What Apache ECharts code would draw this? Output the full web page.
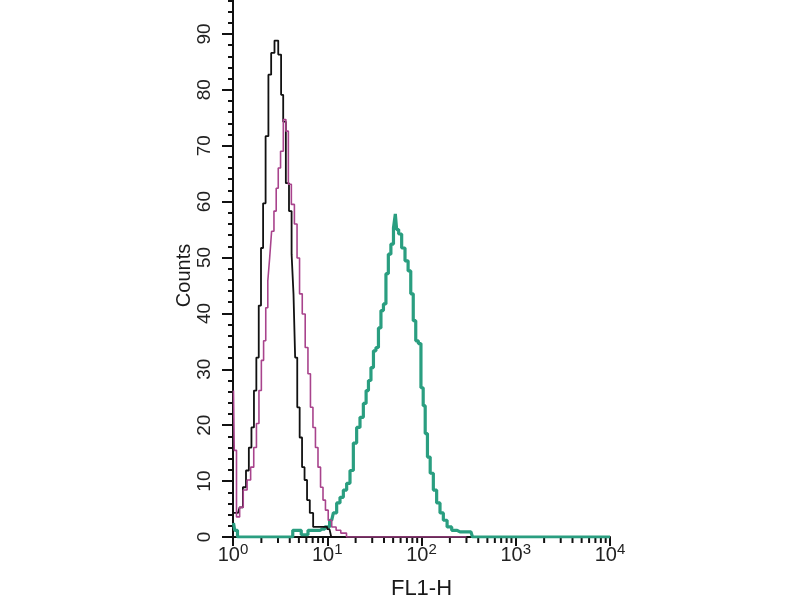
<!DOCTYPE html>
<html><head><meta charset="utf-8">
<script src="https://cdn.jsdelivr.net/npm/echarts@6/dist/echarts.min.js"></script>
<style>html,body{margin:0;padding:0;background:#fff}#c{width:800px;height:600px}</style>
</head><body><div id="c"></div>
<script>
// FL1-H channel values (x) and counts (y) for each histogram
const blackX = [1.025,1.130,1.225,1.324,1.425,1.522,1.618,1.720,1.819,1.934,2.031,2.143,2.295,2.458,2.625,2.894,3.152,3.327,3.493,3.786,4.074,4.299,4.470,4.660,4.955,5.242,5.570,5.921,6.294,6.773,7.413,8.377,9.465,10.56,11.51,13.0];
const blackY = [4.3,4.3,5.3,8.9,11.9,16.0,19.6,26.2,32.1,41.4,51.7,59.7,71.7,82.7,86.6,88.8,86.3,79.1,74.3,63.3,58.3,50.6,43.5,32.1,23.2,17.8,12.5,10.2,6.6,4.3,1.8,1.8,1.8,1.4,0,0];

const magentaX = [1.012,1.050,1.130,1.225,1.347,1.478,1.602,1.720,1.828,1.944,2.056,2.169,2.284,2.398,2.500,2.638,2.804,2.944,3.099,3.295,3.545,3.741,3.997,4.331,4.638,4.929,5.242,5.625,6.053,6.434,6.839,7.269,7.728,8.232,8.754,9.283,9.867,10.62,11.71,13.17,14.70,17.43,300];
const magentaY = [26.2,15.5,3.6,5.3,8.4,10.2,12.5,16.0,20.3,26.2,31.6,35.1,41.0,45.8,49.9,54.7,58.3,62.4,66.0,69.0,74.7,72.6,63.1,59.5,56.0,49.9,43.5,39.9,33.9,29.2,23.2,19.6,16.0,12.5,8.9,6.6,4.8,3.0,1.8,1.2,0.7,0,0];

const tealX = [1.012,1.076,1.158,3.834,4.835,5.806,6.724,7.977,8.799,10.06,11.15,12.09,13.10,14.23,15.43,16.73,18.17,19.70,21.35,23.20,25.15,26.54,28.21,29.99,31.87,33.88,36.01,38.28,40.69,43.25,45.75,48.99,51.9,53.6,55.4,59.16,64.12,69.66,74.61,79.30,84.27,89.59,95.71,101.7,106.8,112.2,119.2,128.3,139.0,150.8,163.8,177.5,196.7,222.3,256.2,303.9,335.1,360.6,10000];
const tealY = [2.5,1.2,0,0,1.2,0.4,1.2,1.2,1.4,1.8,3.0,4.3,6.1,7.1,8.4,9.6,11.9,16.8,19.6,21.4,23.9,26.2,28.0,30.3,33.3,33.9,37.4,40.5,41.7,47.1,50.6,52.4,55.3,57.8,55.0,54.2,51.7,49.4,47.6,43.5,38.7,35.1,34.6,26.7,23.5,18.5,14.3,11.4,8.4,6.1,4.3,3.0,1.8,1.2,0.9,0.9,0.9,0,0];

// axis decoration
const xMajorExponents = [0,1,2,3,4];
const xMinorTicks = [2,3,4,5,6,7,8,9,20,30,40,50,60,70,80,90,200,300,400,500,600,700,800,900,2000,3000,4000,5000,6000,7000,8000,9000];

const zip = (xs, ys) => xs.map((x, i) => [x, ys[i]]);

const chart = echarts.init(document.getElementById('c'), null, {renderer: 'canvas'});
chart.setOption({
  animation: false,
  backgroundColor: '#ffffff',
  grid: {left: 233, right: 190, top: -22, bottom: 63, containLabel: false, outerBoundsMode: 'none'},
  xAxis: {
    type: 'log', logBase: 10, min: 1, max: 10000,
    name: 'FL1-H', nameLocation: 'middle', nameGap: 41,
    nameTextStyle: {fontFamily: 'Liberation Sans', fontSize: 22, color: '#1a1a1a'},
    axisLine: {show: true, onZero: false, lineStyle: {color: '#111', width: 2}},
    axisTick: {show: true, length: 9, lineStyle: {color: '#111', width: 2}},
    minorTick: {show: false},
    splitLine: {show: false},
    axisLabel: {
      margin: 5,
      formatter: v => '{b|10}{s|' + Math.round(Math.log10(v)) + '}',
      rich: {
        b: {fontFamily: 'Liberation Sans', fontSize: 20, lineHeight: 20, color: '#222', padding: [6, 0, 0, 0]},
        s: {fontFamily: 'Liberation Sans', fontSize: 15, lineHeight: 15, color: '#222', verticalAlign: 'top'}
      }
    }
  },
  yAxis: {
    type: 'value', min: 0, max: 100, interval: 10,
    name: 'Counts', nameLocation: 'middle', nameGap: 39,
    nameTextStyle: {fontFamily: 'Liberation Sans', fontSize: 20, color: '#1a1a1a', padding: [0, 36, 0, 0]},
    axisLine: {show: true, lineStyle: {color: '#111', width: 2}},
    axisTick: {show: true, length: 11, lineStyle: {color: '#111', width: 2}},
    minorTick: {show: true, splitNumber: 5, length: 5, lineStyle: {color: '#111', width: 2}},
    splitLine: {show: false},
    axisLabel: {
      rotate: 90, margin: 19,
      fontFamily: 'Liberation Sans', fontSize: 19, color: '#222',
      formatter: v => (v >= 100 ? '' : String(v))
    }
  },
  series: [
    {
      type: 'custom', name: 'minorTicks', silent: true, clip: false,
      data: xMinorTicks.map(v => [v, 0]),
      renderItem: (params, api) => {
        const p = api.coord([api.value(0), 0]);
        return {type: 'line', shape: {x1: p[0], y1: p[1], x2: p[0], y2: p[1] + 6},
                style: {stroke: '#111', lineWidth: 2}};
      },
      z: 1
    },
    {
      type: 'line', name: 'teal', data: zip(tealX, tealY), step: 'middle',
      showSymbol: false, lineStyle: {color: '#2a9e80', width: 3.2}, z: 2
    },
    {
      type: 'line', name: 'black', data: zip(blackX, blackY), step: 'middle',
      showSymbol: false, lineStyle: {color: '#111111', width: 1.8}, z: 3
    },
    {
      type: 'line', name: 'magenta', data: zip(magentaX, magentaY), step: 'middle',
      showSymbol: false, lineStyle: {color: '#a8438c', width: 1.6}, z: 4
    }
  ]
});
</script>
</body></html>
